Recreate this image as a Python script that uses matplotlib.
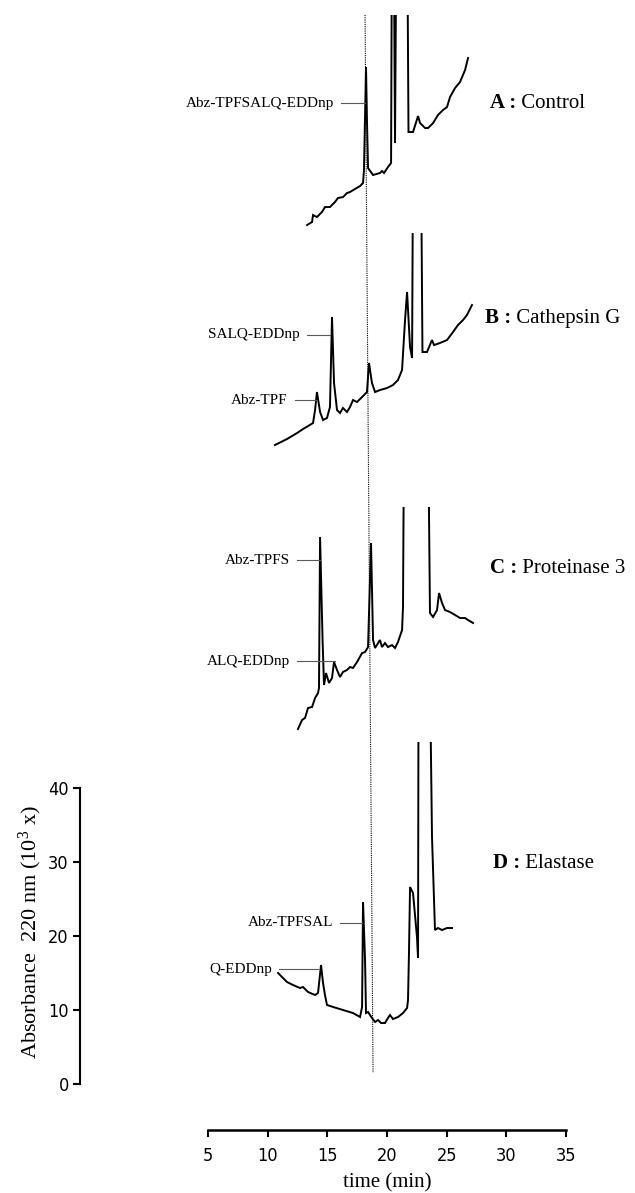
import numpy as np
import matplotlib
matplotlib.use('Agg')
import matplotlib.pyplot as plt
from matplotlib.patches import Rectangle
from matplotlib import font_manager

# ---------------- data (time in min, absorbance 220 nm in 10^3 units) ----------------
time_A = [13.30, 13.72, 13.80, 14.13, 14.55, 14.80, 15.22, 15.64, 15.89, 16.31, 16.65, 16.90,
          17.32, 17.74, 17.99, 18.07, 18.24, 18.32, 18.41, 18.83, 19.41, 19.58, 19.75, 20.08,
          20.34, 20.42, 20.55, 20.67, 20.80, 21.68, 21.80, 22.18, 22.60, 22.77, 23.19, 23.44,
          23.86, 24.27, 24.69, 25.03, 25.28, 25.70, 26.12, 26.54, 26.79]
abs_A = [1.08, 1.49, 2.43, 2.16, 2.84, 3.51, 3.51, 4.19, 4.73, 4.86, 5.41, 5.54,
         5.95, 6.35, 6.76, 8.51, 22.43, 15.27, 8.78, 7.84, 8.11, 8.38, 8.11, 8.92,
         9.46, 45, 45, 12.16, 45, 45, 13.65, 13.65, 15.81, 14.86, 14.19, 14.19,
         14.86, 15.95, 16.62, 17.03, 18.38, 19.59, 20.41, 22.03, 23.65]

time_B = [10.61, 11.62, 12.46, 12.96, 13.80, 13.97, 14.13, 14.39, 14.64, 14.97, 15.22, 15.39,
          15.56, 15.81, 16.06, 16.31, 16.65, 16.90, 17.15, 17.49, 17.91, 18.32, 18.49, 18.74,
          19.00, 19.41, 20.00, 20.50, 20.92, 21.26, 21.51, 21.68, 21.93, 22.10, 22.18, 22.85,
          22.97, 23.35, 23.77, 23.94, 24.44, 25.03, 25.53, 25.95, 26.37, 26.70, 27.12]
abs_B = [6.35, 7.16, 7.97, 8.51, 9.32, 11.08, 13.51, 10.81, 9.73, 10.00, 11.49, 23.65,
         14.73, 11.08, 10.68, 11.35, 10.81, 11.49, 12.43, 12.16, 12.84, 13.51, 17.43, 14.73,
         13.51, 13.78, 14.05, 14.46, 15.14, 16.49, 23.24, 27.03, 19.59, 18.11, 45, 45,
         18.92, 18.92, 20.54, 19.86, 20.14, 20.54, 21.62, 22.57, 23.24, 23.92, 25.27]

time_C = [12.54, 12.88, 13.13, 13.38, 13.72, 13.97, 14.22, 14.30, 14.39, 14.60, 14.72, 14.89,
          15.14, 15.39, 15.56, 15.81, 16.06, 16.31, 16.65, 16.90, 17.15, 17.49, 17.91, 18.16,
          18.41, 18.66, 18.83, 19.00, 19.41, 19.58, 19.83, 20.08, 20.42, 20.67, 20.92, 21.26,
          21.34, 21.43, 23.44, 23.60, 23.86, 24.19, 24.36, 24.61, 24.86, 25.28, 25.70, 26.12,
          26.54, 26.79, 27.21]
abs_C = [2.97, 4.19, 4.46, 5.81, 5.95, 7.16, 7.84, 8.51, 28.92, 15.00, 8.92, 10.54,
         9.19, 9.86, 12.03, 10.95, 10.00, 10.68, 10.95, 11.35, 11.22, 12.03, 13.24, 13.38,
         14.05, 28.11, 15.00, 13.92, 15.00, 14.05, 14.59, 14.05, 14.32, 13.92, 14.73, 16.35,
         19.46, 45, 45, 18.65, 18.11, 19.05, 21.35, 20.00, 19.05, 18.78, 18.38, 17.97,
         17.97, 17.70, 17.30]

time_D = [10.87, 11.62, 12.12, 12.71, 12.96, 13.38, 13.97, 14.22, 14.47, 14.64, 14.80, 14.97,
          15.48, 16.31, 17.15, 17.74, 17.91, 17.99, 18.16, 18.24, 18.41, 18.74, 19.00, 19.25,
          19.50, 19.83, 20.08, 20.25, 20.50, 20.92, 21.34, 21.68, 21.76, 21.84, 21.93, 22.18,
          22.51, 22.60, 22.64, 23.60, 23.77, 24.02, 24.27, 24.61, 25.03, 25.45]
abs_D = [15.00, 13.78, 13.38, 12.97, 13.11, 12.43, 12.03, 12.30, 16.08, 13.65, 12.03, 10.68,
         10.41, 10.00, 9.59, 9.05, 10.41, 24.59, 16.76, 9.59, 9.73, 8.92, 8.38, 8.65,
         8.24, 8.24, 8.92, 9.32, 8.78, 9.05, 9.59, 10.27, 11.35, 17.70, 26.62, 25.81,
         19.86, 17.03, 55, 55, 33.38, 20.81, 21.08, 20.81, 21.08, 21.08]

panel_letters = ['A :', 'B :', 'C :', 'D :']
panel_names = [' Control', ' Cathepsin G', ' Proteinase 3', ' Elastase']
panel_offsets = [115.0, 80.0, 45.0, 0.0]       # vertical stacking offsets
panel_ceilings = [144.46, 115.0, 77.97, 46.22]  # top of the recorder window

# peak labels: (panel index, text, peak time, label height relative to panel offset)
peak_labels = [
    (0, 'Abz-TPFSALQ-EDDnp', 18.16, 17.57),
    (1, 'SALQ-EDDnp', 15.22, 21.22),
    (1, 'Abz-TPF', 14.05, 12.43),
    (2, 'Abz-TPFS', 14.39, 25.81),
    (2, 'ALQ-EDDnp', 15.64, 12.16),
    (3, 'Abz-TPFSAL', 17.91, 21.76),
    (3, 'Q-EDDnp', 14.22, 15.54),
]
label_text_right = [15.56, 12.71, 11.70, 11.87, 11.87, 15.48, 10.36]

x_ticks = [5, 10, 15, 20, 25, 30, 35]
y_ticks = [0, 10, 20, 30, 40]
marker_time_top, marker_time_bottom = 18.16, 18.83

# ---------------- figure ----------------
plt.rcParams['mathtext.fontset'] = 'custom'
plt.rcParams['mathtext.rm'] = 'Liberation Serif'
plt.rcParams['mathtext.it'] = 'Liberation Serif:italic'
plt.rcParams['mathtext.bf'] = 'Liberation Serif:bold'
SERIF = ['Liberation Serif', 'DejaVu Serif']

# narrow font for tick labels if available
names = {f.name for f in font_manager.fontManager.ttflist}
if 'Liberation Sans Narrow' in names:
    NARROW = dict(family='Liberation Sans Narrow')
else:
    NARROW = dict(family='DejaVu Sans', stretch='condensed')

fig = plt.figure(figsize=(6.35, 11.93), dpi=100)
ax = fig.add_axes([0, 0, 1, 1])
ax.set_xlim(-12.43, 40.78)
ax.set_ylim(-14.73, 146.49)
ax.patch.set_visible(False)

traces = [(time_A, abs_A), (time_B, abs_B), (time_C, abs_C), (time_D, abs_D)]
for (t, a), off, ceil in zip(traces, panel_offsets, panel_ceilings):
    line, = ax.plot(t, np.asarray(a) + off, color='black', lw=1.4, solid_joinstyle='miter')
    clip = Rectangle((0, -20), 45, ceil + 20, transform=ax.transData)
    line.set_clip_path(clip)

# dotted reference line
ax.plot([marker_time_top, marker_time_bottom], [144.46, 1.49], color='black',
        lw=0.8, ls=(0, (1, 1)))

# peak labels with leader lines
for (pi, txt, tpk, ly), tr in zip(peak_labels, label_text_right):
    y = ly + panel_offsets[pi]
    ax.text(tr, y, txt, ha='right', va='center', fontsize=11, family=SERIF)
    ax.plot([tr + 0.55, tpk], [y, y], color='0.35', lw=0.8)

# panel titles
title_x = [28.63, 28.21, 28.63, 28.88]
title_y = [132.57, 103.51, 69.73, 29.86]
for let, name, tx, ty in zip(panel_letters, panel_names, title_x, title_y):
    tb = ax.text(tx, ty, let, ha='left', va='center', fontsize=15, fontweight='bold', family=SERIF)
    ax.annotate(name, xy=(1, 0), xycoords=tb, ha='left', va='bottom', fontsize=15, family=SERIF)

# axes
for s in ['top', 'right']:
    ax.spines[s].set_visible(False)
ax.spines['left'].set_position(('data', -5.73))
ax.spines['left'].set_bounds(0, 40)
ax.spines['bottom'].set_position(('data', -6.22))
ax.spines['bottom'].set_bounds(5, 35)
ax.spines['left'].set_linewidth(1.5)
ax.spines['bottom'].set_linewidth(1.8)
ax.set_xticks(x_ticks)
ax.set_yticks(y_ticks)
ax.tick_params(axis='both', direction='out', length=5, width=1.5, labelsize=13)
ax.tick_params(axis='x', pad=7)
ax.tick_params(axis='y', pad=3)
for lab in ax.get_xticklabels() + ax.get_yticklabels():
    lab.set_family(NARROW['family'])
    if 'stretch' in NARROW:
        lab.set_stretch(NARROW['stretch'])

ax.text(20, -13.38, 'time (min)', ha='center', va='center', fontsize=15, family=SERIF)
ax.text(-9.92, 20.54, 'Absorbance  220 nm (10$^{3}$ x)', ha='center', va='center',
        rotation=90, fontsize=16, family=SERIF)

fig.savefig('out.png', dpi=100)
